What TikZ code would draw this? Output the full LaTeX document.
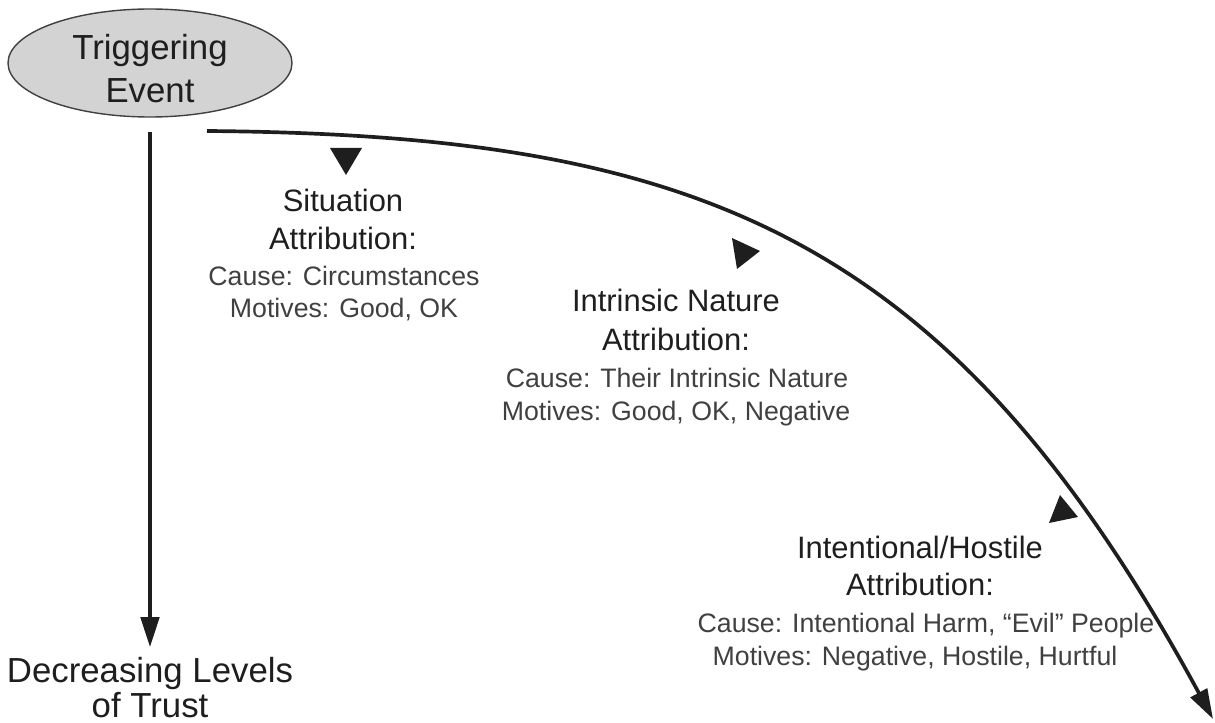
\documentclass[tikz,border=0pt]{standalone}
\usepackage{fontspec}
\setmainfont{Liberation Sans}
\usetikzlibrary{arrows.meta,shapes.geometric}
\definecolor{ink}{HTML}{1E1E1E}
\definecolor{softink}{HTML}{404040}
\definecolor{eventfill}{HTML}{D3D3D3}
\begin{document}
\begin{tikzpicture}[x=0.02cm,y=-0.02cm,
  headline/.style={anchor=base,inner sep=0pt,text=ink,font=\fontsize{17.6pt}{20pt}\selectfont},
  detail/.style={anchor=base,inner sep=0pt,text=softink,font=\fontsize{15.2pt}{18pt}\selectfont},
  bigtext/.style={anchor=base,inner sep=0pt,text=ink,font=\fontsize{19.8pt}{22pt}\selectfont},
  flow/.style={draw=ink,line width=2.1pt,-{Triangle[length=17pt,width=10.5pt]}},
  marker/.style={fill=ink,draw=none}]
\useasboundingbox (0,0) rectangle (1215,723);

% triggering event
\node[ellipse,draw=ink!85,line width=0.8pt,fill=eventfill,
      minimum width=284*0.02cm,minimum height=108*0.02cm] (event) at (150,63) {};
\node[bigtext] (evA) at (150,60) {Triggering};
\node[bigtext] (evB) at (150,103) {Event};

% trust axis
\node[bigtext] (trA) at (150,682) {Decreasing Levels};
\node[bigtext] (trB) at (150,717) {of Trust};
\coordinate (axisTop) at (150,132);
\coordinate (axisEnd) at (150,647);
\draw[flow] (axisTop) -- (axisEnd);

% attribution curve
\coordinate (curveStart) at (207,131);
\coordinate (curveEnd) at (1213,719);
\draw[flow] (curveStart) .. controls (700,135) and (950,235) .. (curveEnd);

% markers along the curve
\fill[marker] (330,148) -- (362,148) -- (346,175) -- cycle;
\fill[marker] (732,238) -- (760,251) -- (737,269) -- cycle;
\fill[marker] (1060,495) -- (1078,517) -- (1049,523) -- cycle;

% situation attribution
\node[headline] (sA) at (343,212) {Situation};
\node[headline] (sB) at (343,250) {Attribution:};
\node[detail]   (sC) at (344,285) {Cause: Circumstances};
\node[detail]   (sD) at (344,317) {Motives: Good, OK};

% intrinsic nature attribution
\node[headline] (nA) at (676,312) {Intrinsic Nature};
\node[headline] (nB) at (676,350) {Attribution:};
\node[detail]   (nC) at (677,387) {Cause: Their Intrinsic Nature};
\node[detail]   (nD) at (676,420) {Motives: Good, OK, Negative};

% intentional/hostile attribution
\node[headline] (hA) at (920,558) {Intentional/Hostile};
\node[headline] (hB) at (920,595) {Attribution:};
\node[detail]   (hC) at (926,632) {Cause: Intentional Harm, “Evil” People};
\node[detail]   (hD) at (915,665) {Motives: Negative, Hostile, Hurtful};
\end{tikzpicture}
\end{document}
